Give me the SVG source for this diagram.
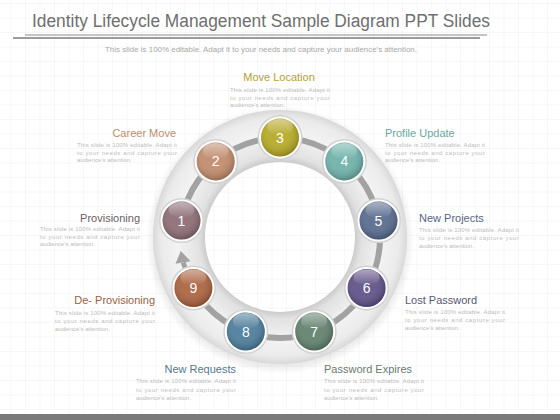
<svg xmlns="http://www.w3.org/2000/svg" width="560" height="420" viewBox="0 0 560 420">
<style>
.title{font-family:"Liberation Sans",Arial,sans-serif;font-size:18px;fill:#6f6f6f}
.sub{font-family:"Liberation Sans",Arial,sans-serif;font-size:8px;fill:#a8a8a8}
.lbl{font-family:"Liberation Sans",Arial,sans-serif;font-size:11px}
.desc{font-family:"Liberation Sans",Arial,sans-serif;font-size:6px;fill:#bcbcbc}
.num{font-family:"Liberation Sans",Arial,sans-serif;font-size:14px;fill:#ffffff;text-anchor:middle}
.rim{fill:#d2d2d2}
.gl{fill:url(#gloss)}
.hl{fill:url(#hi)}
.bd{stroke:#ffffff;stroke-width:2}
</style>
<defs>
<pattern id="grid" x="10.5" y="3" width="14.5" height="14.5" patternUnits="userSpaceOnUse">
<path d="M0 0H14.5M0 0V14.5" fill="none" stroke="#ebebeb" stroke-width="0.8"/>
</pattern>
<radialGradient id="ringg" cx="280" cy="237" r="128" gradientUnits="userSpaceOnUse">
<stop offset="0.58" stop-color="#c9c9c9"/>
<stop offset="0.64" stop-color="#e2e2e2"/>
<stop offset="0.8" stop-color="#f3f3f3"/>
<stop offset="0.93" stop-color="#ebebeb"/>
<stop offset="1" stop-color="#d6d6d6"/>
</radialGradient>
<radialGradient id="shadow" cx="280" cy="240" r="134" gradientUnits="userSpaceOnUse">
<stop offset="0.6" stop-color="#000" stop-opacity="0"/>
<stop offset="0.9" stop-color="#000" stop-opacity="0.12"/>
<stop offset="1" stop-color="#000" stop-opacity="0"/>
</radialGradient>
<radialGradient id="gloss" cx="0.45" cy="0.4" r="0.6">
<stop offset="0.5" stop-color="#fff" stop-opacity="0.08"/>
<stop offset="1" stop-color="#000" stop-opacity="0.22"/>
</radialGradient>
<linearGradient id="hi" x1="0" y1="0" x2="0" y2="1">
<stop offset="0" stop-color="#fff" stop-opacity="0.45"/>
<stop offset="1" stop-color="#fff" stop-opacity="0"/>
</linearGradient>
</defs>
<rect width="560" height="420" fill="#ffffff"/>
<rect width="560" height="414" fill="url(#grid)"/>
<rect y="414" width="560" height="6" fill="#7a7a7a"/>

<g id="header">
<text class="title" x="32" y="27" textLength="458" lengthAdjust="spacingAndGlyphs">Identity Lifecycle Management Sample Diagram PPT Slides</text>
<line x1="25" y1="35" x2="487" y2="35" stroke="#8a8a8a" stroke-width="1"/>
<line x1="13" y1="38" x2="480" y2="38" stroke="#3a3a3a" stroke-width="1"/>
<text class="sub" x="105" y="52" textLength="312" lengthAdjust="spacingAndGlyphs">This slide is 100% editable. Adapt it to your needs and capture your audience's attention.</text>
</g>

<g id="ring">
<path d="M280 106a134 134 0 1 0 0.01 0ZM280 162a76 76 0 1 1 -0.01 0Z" fill="url(#shadow)" fill-rule="evenodd"/>
<path d="M280 110a127 127 0 1 0 0.01 0ZM280 162a75 75 0 1 1 -0.01 0Z" fill="url(#ringg)" fill-rule="evenodd"/>
</g>

<g id="connectors" fill="none" stroke="#a2a2a2" stroke-width="6">
<path d="M181.5 220.6A100 100 0 1 1 193.4 288"/>
<path d="M186.5 272L183.2 262.5" stroke-width="5"/>
<polygon points="180.8,251 175.5,263.8 190.5,261.2" fill="#a2a2a2" stroke="none"/>
</g>

<g id="node1"><circle class="rim" cx="181.5" cy="220.6" r="22.5"/><circle class="bd" cx="181.5" cy="220.6" r="20" fill="#8a6a73"/><circle class="gl" cx="181.5" cy="220.6" r="19"/><ellipse class="hl" cx="181.5" cy="210" rx="13" ry="8"/><text class="num" x="181.5" y="225.6">1</text></g>
<g id="node2"><circle class="rim" cx="215.7" cy="161.4" r="22.5"/><circle class="bd" cx="215.7" cy="161.4" r="20" fill="#c0896a"/><circle class="gl" cx="215.7" cy="161.4" r="19"/><ellipse class="hl" cx="215.7" cy="151" rx="13" ry="8"/><text class="num" x="215.7" y="166.4">2</text></g>
<g id="node3"><circle class="rim" cx="280" cy="137.5" r="22.5"/><circle class="bd" cx="280" cy="137.5" r="20" fill="#b4a722"/><circle class="gl" cx="280" cy="137.5" r="19"/><ellipse class="hl" cx="280" cy="127" rx="13" ry="8"/><text class="num" x="280" y="142.5">3</text></g>
<g id="node4"><circle class="rim" cx="344.3" cy="161.4" r="22.5"/><circle class="bd" cx="344.3" cy="161.4" r="20" fill="#6cb0a8"/><circle class="gl" cx="344.3" cy="161.4" r="19"/><ellipse class="hl" cx="344.3" cy="151" rx="13" ry="8"/><text class="num" x="344.3" y="166.4">4</text></g>
<g id="node5"><circle class="rim" cx="378.5" cy="220.6" r="22.5"/><circle class="bd" cx="378.5" cy="220.6" r="20" fill="#56698c"/><circle class="gl" cx="378.5" cy="220.6" r="19"/><ellipse class="hl" cx="378.5" cy="210" rx="13" ry="8"/><text class="num" x="378.5" y="225.6">5</text></g>
<g id="node6"><circle class="rim" cx="366.6" cy="288" r="22.5"/><circle class="bd" cx="366.6" cy="288" r="20" fill="#5d4f86"/><circle class="gl" cx="366.6" cy="288" r="19"/><ellipse class="hl" cx="366.6" cy="277.5" rx="13" ry="8"/><text class="num" x="366.6" y="293">6</text></g>
<g id="node7"><circle class="rim" cx="314.2" cy="331.5" r="22.5"/><circle class="bd" cx="314.2" cy="331.5" r="20" fill="#5f7f6c"/><circle class="gl" cx="314.2" cy="331.5" r="19"/><ellipse class="hl" cx="314.2" cy="321" rx="13" ry="8"/><text class="num" x="314.2" y="336.5">7</text></g>
<g id="node8"><circle class="rim" cx="245.8" cy="331.5" r="22.5"/><circle class="bd" cx="245.8" cy="331.5" r="20" fill="#4a7b9a"/><circle class="gl" cx="245.8" cy="331.5" r="19"/><ellipse class="hl" cx="245.8" cy="321" rx="13" ry="8"/><text class="num" x="245.8" y="336.5">8</text></g>
<g id="node9"><circle class="rim" cx="193.4" cy="288" r="22.5"/><circle class="bd" cx="193.4" cy="288" r="20" fill="#a9613d"/><circle class="gl" cx="193.4" cy="288" r="19"/><ellipse class="hl" cx="193.4" cy="277.5" rx="13" ry="8"/><text class="num" x="193.4" y="293">9</text></g>

<g id="label-move-location">
<text class="lbl" x="279" y="81" text-anchor="middle" fill="#b1a32e">Move Location</text>
<text class="desc" x="230" y="92" textLength="100" lengthAdjust="spacing">This slide is 100% editable. Adapt it</text>
<text class="desc" x="230" y="99.5" textLength="100" lengthAdjust="spacing">to your needs and capture your</text>
<text class="desc" x="230" y="107">audience's attention.</text>
</g>
<g id="label-career-move">
<text class="lbl" x="176" y="137" text-anchor="end" fill="#b88e6e">Career Move</text>
<text class="desc" x="77" y="147" textLength="100" lengthAdjust="spacing">This slide is 100% editable. Adapt it</text>
<text class="desc" x="77" y="154.5" textLength="100" lengthAdjust="spacing">to your needs and capture your</text>
<text class="desc" x="77" y="162">audience's attention.</text>
</g>
<g id="label-profile-update">
<text class="lbl" x="385" y="137" fill="#6aa79f">Profile Update</text>
<text class="desc" x="385" y="147" textLength="100" lengthAdjust="spacing">This slide is 100% editable. Adapt it</text>
<text class="desc" x="385" y="154.5" textLength="100" lengthAdjust="spacing">to your needs and capture your</text>
<text class="desc" x="385" y="162">audience's attention.</text>
</g>
<g id="label-provisioning">
<text class="lbl" x="140" y="222" text-anchor="end" fill="#6b5f64">Provisioning</text>
<text class="desc" x="40" y="231" textLength="100" lengthAdjust="spacing">This slide is 100% editable. Adapt it</text>
<text class="desc" x="40" y="238.5" textLength="100" lengthAdjust="spacing">to your needs and capture your</text>
<text class="desc" x="40" y="246">audience's attention.</text>
</g>
<g id="label-new-projects">
<text class="lbl" x="419" y="222" fill="#58677f">New Projects</text>
<text class="desc" x="419" y="232" textLength="100" lengthAdjust="spacing">This slide is 100% editable. Adapt it</text>
<text class="desc" x="419" y="240" textLength="100" lengthAdjust="spacing">to your needs and capture your</text>
<text class="desc" x="419" y="248">audience's attention.</text>
</g>
<g id="label-de-provisioning">
<text class="lbl" x="155" y="304" text-anchor="end" fill="#9c5f40">De- Provisioning</text>
<text class="desc" x="55" y="315" textLength="100" lengthAdjust="spacing">This slide is 100% editable. Adapt it</text>
<text class="desc" x="55" y="323" textLength="100" lengthAdjust="spacing">to your needs and capture your</text>
<text class="desc" x="55" y="331">audience's attention.</text>
</g>
<g id="label-lost-password">
<text class="lbl" x="405" y="304" fill="#5b5671">Lost Password</text>
<text class="desc" x="405" y="314" textLength="100" lengthAdjust="spacing">This slide is 100% editable. Adapt it</text>
<text class="desc" x="405" y="322" textLength="100" lengthAdjust="spacing">to your needs and capture your</text>
<text class="desc" x="405" y="330">audience's attention.</text>
</g>
<g id="label-new-requests">
<text class="lbl" x="236" y="373" text-anchor="end" fill="#56788e">New Requests</text>
<text class="desc" x="136" y="383" textLength="100" lengthAdjust="spacing">This slide is 100% editable. Adapt it</text>
<text class="desc" x="136" y="391.5" textLength="100" lengthAdjust="spacing">to your needs and capture your</text>
<text class="desc" x="136" y="400">audience's attention.</text>
</g>
<g id="label-password-expires">
<text class="lbl" x="324" y="373" fill="#6a7a70">Password Expires</text>
<text class="desc" x="324" y="383" textLength="100" lengthAdjust="spacing">This slide is 100% editable. Adapt it</text>
<text class="desc" x="324" y="391.5" textLength="100" lengthAdjust="spacing">to your needs and capture your</text>
<text class="desc" x="324" y="400">audience's attention.</text>
</g>
</svg>
